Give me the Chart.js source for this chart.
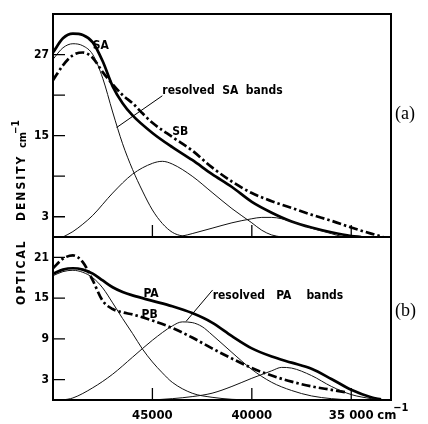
<!DOCTYPE html>
<html lang="en">
<head>
  <meta charset="UTF-8">
  <title>Optical density – resolved SA / PA bands</title>
  <script src="https://cdn.jsdelivr.net/npm/chart.js"></script>
  <style>
    body { margin: 0; background: #fff; }
    #wrap { position: relative; width: 428px; height: 424px; }
    #wrap canvas { position: absolute; left: 0; top: 0; }
  </style>
</head>
<body>
  <div id="wrap">
    <canvas id="chartA" width="428" height="424"></canvas>
    <canvas id="chartB" width="428" height="424"></canvas>
  </div>

  <script>
    // wavenumbers (cm-1) and optical density (cm-1)
    // --- panel (a) ---
    const saWn    = [50000, 49500, 49000, 48500, 48000, 47500, 47000, 46500, 46000, 45000, 44000, 43000, 42000, 41000, 40000, 39000, 38000, 37000, 36000, 35000, 34500];
    const saTotal = [27.3, 29.4, 30.1, 29.9, 28.8, 26.0, 22.3, 19.8, 18.0, 15.4, 13.3, 11.4, 9.3, 7.4, 5.2, 3.6, 2.3, 1.4, 0.7, 0.15, 0];

    const sbWn    = [50000, 49500, 49000, 48500, 48000, 47500, 47000, 46500, 46000, 45500, 45000, 44000, 43000, 42000, 41000, 40000, 39000, 38000, 37000, 36000, 35000, 34000, 33400];
    const sbTotal = [23.2, 25.4, 26.9, 27.3, 26.5, 24.4, 22.6, 21.0, 19.8, 18.3, 16.9, 14.8, 12.8, 10.3, 8.2, 6.5, 5.3, 4.3, 3.3, 2.4, 1.4, 0.5, 0];

    const saBand1Wn = [50000, 49500, 49000, 48500, 48000, 47500, 47000, 46500, 46000, 45500, 45000, 44500, 44000, 43500, 43000];
    const saBand1   = [26.3, 28.0, 28.6, 28.3, 27.0, 23.5, 18.5, 13.8, 10.0, 6.8, 4.0, 2.0, 0.7, 0.15, 0];

    const saBand2Wn = [49500, 49000, 48500, 48000, 47000, 46000, 45000, 44500, 44000, 43000, 42000, 41000, 40000, 39500, 39000, 38500];
    const saBand2   = [0, 0.8, 1.9, 3.2, 6.5, 9.3, 10.9, 11.2, 10.8, 9.0, 6.6, 4.2, 2.1, 1.0, 0.3, 0];

    const saBand3Wn = [44000, 43500, 43000, 42000, 41000, 40000, 39500, 39000, 38000, 37000, 36000, 35500, 35000];
    const saBand3   = [0, 0.15, 0.5, 1.3, 2.1, 2.7, 2.9, 2.9, 2.3, 1.3, 0.5, 0.1, 0];

    // --- panel (b) ---
    const paWn    = [50000, 49500, 49000, 48500, 48000, 47500, 47000, 46500, 46000, 45000, 44000, 43000, 42000, 41000, 40000, 39000, 38000, 37000, 36000, 35000, 34000, 33500];
    const paTotal = [18.6, 19.2, 19.4, 19.2, 18.6, 17.6, 16.6, 15.9, 15.4, 14.6, 13.8, 12.8, 11.4, 9.4, 7.6, 6.4, 5.5, 4.6, 3.1, 1.5, 0.4, 0.1];

    const pbWn    = [50000, 49500, 49000, 48500, 48000, 47500, 47000, 46500, 46000, 45000, 44000, 43000, 42000, 41000, 40000, 39000, 38000, 37000, 36000, 35200];
    const pbTotal = [19.4, 20.8, 21.3, 20.3, 17.6, 14.6, 13.4, 12.9, 12.6, 11.7, 10.6, 9.2, 7.6, 6.1, 4.7, 3.6, 2.7, 2.0, 1.5, 1.1];

    const paBand1Wn = [50000, 49500, 49000, 48500, 48000, 47500, 47000, 46500, 46000, 45500, 45000, 44500, 44000, 43000, 42000, 41000, 40000];
    const paBand1   = [18.3, 18.9, 19.1, 18.8, 18.0, 16.5, 14.3, 12.0, 9.8, 7.5, 5.6, 4.0, 2.6, 1.0, 0.4, 0.1, 0];

    const paBand2Wn = [49500, 49000, 48000, 47000, 46000, 45000, 44000, 43500, 43000, 42500, 42000, 41000, 40000, 39000, 38000, 37000, 36000, 35000];
    const paBand2   = [0, 0.3, 1.8, 3.8, 6.3, 8.8, 10.9, 11.5, 11.4, 10.8, 9.6, 7.0, 4.5, 2.6, 1.4, 0.6, 0.2, 0];

    const paBand3Wn = [45000, 44000, 43000, 42000, 41000, 40000, 39000, 38500, 38000, 37000, 36000, 35000, 34000, 33500];
    const paBand3   = [0, 0.2, 0.5, 1.0, 2.0, 3.2, 4.3, 4.8, 4.7, 3.6, 2.0, 0.8, 0.2, 0];

    // axes
    const wnTicks = [45000, 40000, 35000];
    const topYTicks = [3, 9, 15, 21, 27];
    const topYLabeled = [3, 15, 27];
    const bottomYTicks = [3, 9, 15, 21];

    const condensed = "'DejaVu Sans Condensed', 'Liberation Sans Narrow', 'DejaVu Sans', sans-serif";

    function pts(wn, vals) {
      return wn.map((w, i) => ({ x: w, y: vals[i] }));
    }

    const thin = { borderColor: '#111', borderWidth: 1 };
    const thick = { borderColor: '#000', borderWidth: 2.7 };
    const dashDot = { borderColor: '#000', borderWidth: 2.7, borderDash: [9, 3, 2.5, 3] };

    function line(data, style) {
      return Object.assign({ data: data, pointRadius: 0, fill: false, cubicInterpolationMode: 'monotone' }, style);
    }

    // frame, inward ticks, annotations
    const panelDecor = {
      id: 'panelDecor',
      afterDatasetsDraw(chart, args, opts) {
        const ctx = chart.ctx;
        const a = chart.chartArea;
        const x = chart.scales.x, y = chart.scales.y;
        ctx.save();
        ctx.strokeStyle = '#000';
        ctx.fillStyle = '#000';
        ctx.lineWidth = 2;
        ctx.strokeRect(a.left, a.top, a.right - a.left, a.bottom - a.top);

        ctx.lineWidth = 1.3;
        ctx.beginPath();
        opts.yTicks.forEach(v => {
          const py = y.getPixelForValue(v);
          ctx.moveTo(a.left, py); ctx.lineTo(a.left + 12, py);
        });
        wnTicks.forEach(v => {
          const px = x.getPixelForValue(v);
          ctx.moveTo(px, a.bottom); ctx.lineTo(px, a.bottom - 12);
        });
        ctx.stroke();

        ctx.lineWidth = 1;
        ctx.beginPath();
        opts.leaders.forEach(l => {
          ctx.moveTo(x.getPixelForValue(l[0]), y.getPixelForValue(l[1]));
          ctx.lineTo(x.getPixelForValue(l[2]), y.getPixelForValue(l[3]));
        });
        ctx.stroke();

        ctx.font = 'bold 12px ' + condensed;
        ctx.textBaseline = 'middle';
        ctx.textAlign = 'left';
        opts.labels.forEach(l => {
          ctx.fillText(l[0], x.getPixelForValue(l[1]), y.getPixelForValue(l[2]));
        });

        ctx.font = '18px "Liberation Serif", "DejaVu Serif", serif';
        ctx.fillText(opts.panel, a.right + 4, (a.top + a.bottom) / 2 + (opts.panelShift || 0));
        ctx.restore();
      }
    };

    // axis title and units, drawn once on the lower chart
    const axisText = {
      id: 'axisText',
      afterDraw(chart) {
        const ctx = chart.ctx;
        const x = chart.scales.x;
        ctx.save();
        ctx.fillStyle = '#000';
        ctx.textBaseline = 'middle';
        ctx.textAlign = 'left';
        // "cm-1" after the last tick label
        ctx.font = 'bold 13px ' + condensed;
        ctx.fillText('cm', x.getPixelForValue(35000) + 26, 416);
        ctx.font = 'bold 11px ' + condensed;
        ctx.fillText('\u22121', x.getPixelForValue(35000) + 42, 408);

        // vertical title
        ctx.translate(22, 0);
        ctx.rotate(-Math.PI / 2);
        ctx.font = 'bold 12px ' + condensed;
        ctx.letterSpacing = '2px';
        ctx.fillText('OPTICAL', -305, 0);
        ctx.fillText('DENSITY', -221, 0);
        ctx.letterSpacing = '0px';
        ctx.font = 'bold 11px ' + condensed;
        ctx.fillText('cm', -148, 1);
        ctx.font = 'bold 10px ' + condensed;
        ctx.fillText('\u22121', -134, -6);
        ctx.restore();
      }
    };

    function options(yMax, yTicks, yLabeled, pad, showX, decor) {
      return {
        responsive: false,
        animation: false,
        layout: { padding: pad },
        plugins: { legend: { display: false }, tooltip: { enabled: false }, panelDecor: decor },
        scales: {
          x: {
            type: 'linear', reverse: true, min: 33000, max: 50000,
            display: showX,
            grid: { display: false, drawTicks: false },
            border: { display: false },
            afterBuildTicks: s => { s.ticks = wnTicks.map(v => ({ value: v })); },
            afterFit: s => { s.height = showX ? 24 : 0; },
            ticks: {
              autoSkip: false, maxRotation: 0, padding: 8, color: '#000',
              font: { family: condensed, size: 13, weight: 'bold' },
              callback: v => v === 35000 ? '35 000' : String(v)
            }
          },
          y: {
            min: 0, max: yMax,
            grid: { display: false, drawTicks: false },
            border: { display: false },
            afterBuildTicks: s => { s.ticks = yTicks.map(v => ({ value: v })); },
            afterFit: s => { s.width = 53; },
            ticks: {
              padding: 4, color: '#000',
              font: { family: condensed, size: 12, weight: 'bold' },
              callback: v => yLabeled.includes(v) ? String(v) : ''
            }
          }
        }
      };
    }

    new Chart(document.getElementById('chartA'), {
      type: 'line',
      data: {
        datasets: [
          line(pts(saBand1Wn, saBand1), thin),
          line(pts(saBand2Wn, saBand2), thin),
          line(pts(saBand3Wn, saBand3), thin),
          line(pts(sbWn, sbTotal), dashDot),
          line(pts(saWn, saTotal), thick)
        ]
      },
      options: options(33, topYTicks, topYLabeled, { top: 14, right: 37, bottom: 187, left: 0 }, false, {
        yTicks: topYTicks,
        panel: '(a)',
        panelShift: -11,
        labels: [['SA', 48000, 28.3], ['SB', 44000, 15.6], ['resolved  SA  bands', 44500, 21.6]],
        leaders: [[44500, 20.9, 46800, 16.2]]
      }),
      plugins: [panelDecor]
    });

    new Chart(document.getElementById('chartB'), {
      type: 'line',
      data: {
        datasets: [
          line(pts(paBand1Wn, paBand1), thin),
          line(pts(paBand2Wn, paBand2), thin),
          line(pts(paBand3Wn, paBand3), thin),
          line(pts(pbWn, pbTotal), dashDot),
          line(pts(paWn, paTotal), thick)
        ]
      },
      options: options(24, bottomYTicks, bottomYTicks, { top: 237, right: 37, bottom: 0, left: 0 }, true, {
        yTicks: bottomYTicks,
        panel: '(b)',
        panelShift: -7,
        labels: [['PA', 45450, 15.6], ['PB', 45550, 12.6], ['resolved   PA    bands', 41970, 15.4]],
        leaders: [[41970, 16.2, 43300, 11.6]]
      }),
      plugins: [panelDecor, axisText]
    });
  </script>
</body>
</html>
